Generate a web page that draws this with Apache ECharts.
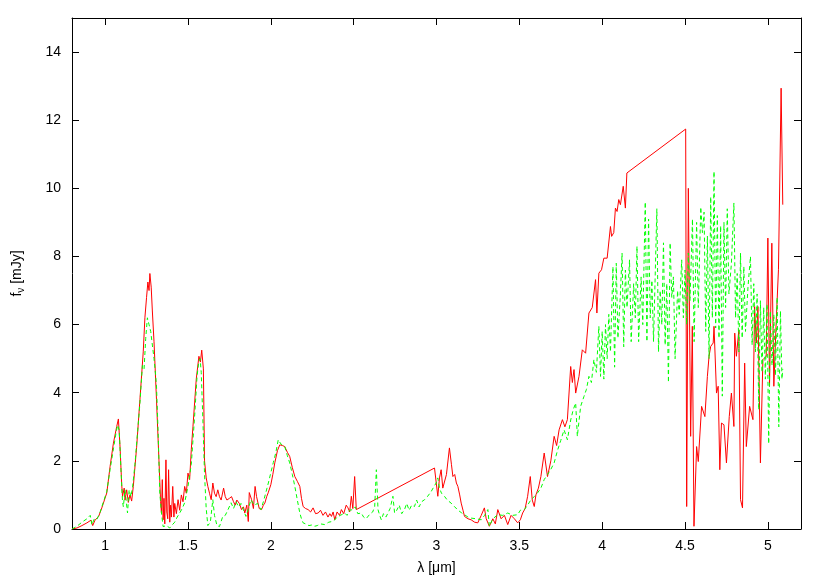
<!DOCTYPE html>
<html>
<head>
<meta charset="utf-8">
<script src="https://cdn.jsdelivr.net/npm/echarts@6/dist/echarts.min.js"></script>
<style>
  html, body { margin: 0; padding: 0; background: #fff; }
  #chart { width: 830px; height: 581px; }
</style>
</head>
<body>
<div id="chart"></div>
<script>
// tick labels
const xTicks = [1, 1.5, 2, 2.5, 3, 3.5, 4, 4.5, 5]
const yTicks = [0, 2, 4, 6, 8, 10, 12, 14]

// red spectrum [lambda (um), f_nu (mJy)]
const redShort = [
  [0.80, 0.00], [0.83, 0.03], [0.86, 0.10], [0.89, 0.18], [0.915, 0.26], [0.925, 0.10], [0.94, 0.27], [0.96, 0.36],
  [0.98, 0.62], [1.01, 1.06], [1.03, 1.84], [1.05, 2.52], [1.07, 3.01], [1.08, 3.23], [1.09, 2.40], [1.10, 1.30],
  [1.105, 0.96], [1.115, 1.20], [1.12, 0.85], [1.13, 1.15], [1.14, 0.78], [1.15, 1.00], [1.16, 0.82], [1.17, 1.25],
  [1.19, 2.40], [1.21, 3.80], [1.23, 5.20], [1.24, 6.20], [1.25, 6.80], [1.258, 7.25], [1.265, 7.00], [1.27, 7.50],
  [1.278, 7.10], [1.285, 6.40], [1.295, 5.50], [1.31, 3.80], [1.325, 2.00], [1.335, 0.80],
  [1.34, 0.47], [1.345, 1.45], [1.35, 0.27], [1.355, 0.90], [1.36, 0.15], [1.367, 2.03], [1.372, 0.50], [1.378, 0.30],
  [1.383, 1.74], [1.39, 0.20], [1.395, 0.70], [1.40, 0.35], [1.408, 1.25], [1.415, 0.35], [1.42, 0.75], [1.43, 0.45],
  [1.44, 0.86], [1.45, 0.55], [1.46, 1.00], [1.47, 0.80], [1.48, 1.25], [1.49, 1.05], [1.50, 1.64], [1.51, 1.45],
  [1.52, 2.33], [1.53, 3.00], [1.54, 3.70], [1.55, 4.40], [1.566, 5.07], [1.575, 4.90], [1.583, 5.25], [1.593, 4.70],
  [1.60, 2.00], [1.61, 1.50], [1.62, 1.25], [1.63, 1.05], [1.64, 0.86], [1.65, 1.35], [1.66, 1.05], [1.67, 0.95],
  [1.68, 1.15], [1.69, 0.95], [1.70, 0.85], [1.715, 1.20], [1.725, 0.95], [1.735, 0.85], [1.75, 0.90], [1.763, 0.95],
  [1.775, 0.80], [1.785, 0.70], [1.795, 0.85], [1.81, 0.75], [1.823, 0.57], [1.835, 0.65], [1.843, 0.47], [1.855, 0.70],
  [1.864, 0.22], [1.87, 1.07], [1.884, 0.86], [1.895, 0.60], [1.905, 1.25], [1.914, 0.95], [1.93, 0.60], [1.944, 0.57],
  [1.955, 0.70], [1.964, 0.76], [1.975, 0.95], [1.984, 1.06], [2.00, 1.30], [2.012, 1.60], [2.024, 1.94], [2.04, 2.30],
  [2.054, 2.47], [2.07, 2.45], [2.084, 2.42], [2.10, 2.25], [2.114, 2.13], [2.13, 1.80], [2.145, 1.54], [2.16, 1.40],
  [2.175, 1.25], [2.185, 0.90], [2.195, 0.66], [2.21, 0.60], [2.225, 0.57], [2.24, 0.50], [2.255, 0.62], [2.27, 0.45],
  [2.286, 0.47], [2.30, 0.55], [2.315, 0.40], [2.33, 0.50], [2.345, 0.35], [2.356, 0.45], [2.366, 0.37], [2.376, 0.50],
  [2.386, 0.27], [2.40, 0.50], [2.415, 0.40], [2.426, 0.57], [2.44, 0.45], [2.455, 0.70], [2.466, 0.62], [2.476, 0.50],
  [2.486, 0.96], [2.495, 0.60], [2.506, 1.54], [2.516, 0.57]
]
const redLong = [
  [2.988, 1.79], [3.008, 0.96], [3.018, 1.50], [3.028, 1.74], [3.038, 1.20], [3.048, 1.25], [3.06, 1.60], [3.078, 2.38],
  [3.09, 1.90], [3.099, 1.54], [3.11, 1.60], [3.12, 1.35], [3.129, 1.25], [3.14, 1.00], [3.149, 0.76], [3.16, 0.55],
  [3.169, 0.37], [3.19, 0.30], [3.209, 0.27], [3.23, 0.20], [3.249, 0.18], [3.27, 0.40], [3.289, 0.62], [3.30, 0.30],
  [3.319, 0.08], [3.34, 0.30], [3.355, 0.15], [3.37, 0.57], [3.39, 0.30], [3.41, 0.40], [3.43, 0.13], [3.45, 0.40],
  [3.47, 0.30], [3.49, 0.18], [3.506, 0.27], [3.52, 0.47], [3.535, 0.60], [3.55, 0.96], [3.566, 1.54], [3.578, 0.85],
  [3.59, 0.66], [3.60, 1.00], [3.615, 1.20], [3.63, 1.54], [3.65, 2.23], [3.67, 1.54], [3.69, 2.00], [3.71, 2.72],
  [3.725, 2.45], [3.74, 2.91], [3.76, 3.21], [3.775, 3.00], [3.79, 3.21], [3.81, 4.77], [3.82, 4.30], [3.83, 4.68],
  [3.84, 3.99], [3.86, 4.48], [3.88, 5.26], [3.90, 5.16], [3.92, 6.34], [3.94, 6.50], [3.96, 7.32], [3.968, 6.34],
  [3.98, 7.51], [3.996, 7.61], [4.01, 7.95], [4.03, 7.95], [4.05, 8.88], [4.057, 8.59], [4.07, 8.70], [4.08, 9.42],
  [4.09, 9.32], [4.10, 9.67], [4.11, 9.52], [4.127, 10.06], [4.14, 9.42], [4.149, 10.45],
  [4.504, 11.74], [4.51, 0.66], [4.52, 10.00], [4.534, 2.72], [4.544, 5.95], [4.554, 0.08], [4.57, 2.42], [4.58, 1.98],
  [4.60, 3.60], [4.62, 3.30], [4.635, 4.48], [4.645, 5.07], [4.655, 5.36], [4.67, 5.46], [4.675, 5.95], [4.69, 3.99],
  [4.70, 4.19], [4.71, 1.74], [4.72, 3.11], [4.735, 3.06], [4.75, 1.94], [4.767, 3.30], [4.78, 3.99], [4.795, 3.01],
  [4.80, 5.75], [4.81, 5.07], [4.825, 5.85], [4.835, 0.86], [4.847, 0.62], [4.86, 4.87], [4.87, 2.42], [4.89, 3.60],
  [4.91, 3.21], [4.92, 6.53], [4.93, 5.46], [4.94, 6.53], [4.955, 1.94], [4.97, 4.97], [4.99, 5.07], [5.00, 8.54],
  [5.01, 4.19], [5.024, 8.39], [5.036, 4.19], [5.05, 6.05], [5.064, 7.61], [5.08, 12.94], [5.09, 9.52]
]

// green (dashed) spectrum
const greenShort = [
  [0.80, 0.00], [0.83, 0.08], [0.86, 0.20], [0.89, 0.30], [0.91, 0.40], [0.92, 0.12], [0.935, 0.30], [0.95, 0.28],
  [0.97, 0.50], [0.99, 0.80], [1.01, 1.10], [1.03, 1.75], [1.05, 2.35], [1.065, 2.80], [1.075, 3.05], [1.085, 2.90],
  [1.095, 1.80], [1.105, 0.80], [1.11, 0.65], [1.12, 1.15], [1.135, 0.47], [1.145, 1.15], [1.155, 0.95], [1.165, 1.20],
  [1.18, 1.90], [1.195, 2.80], [1.21, 3.70], [1.225, 4.80], [1.235, 4.70], [1.245, 5.60], [1.255, 6.20], [1.265, 6.00],
  [1.275, 5.80], [1.285, 5.40], [1.295, 5.00], [1.305, 4.50], [1.31, 4.20], [1.32, 2.80], [1.33, 1.05], [1.34, 0.47],
  [1.35, 0.07], [1.37, 0.10], [1.39, 0.03], [1.405, 0.12], [1.42, 0.20], [1.435, 0.35], [1.45, 0.47], [1.465, 0.60],
  [1.48, 0.77], [1.50, 1.25], [1.52, 1.90], [1.54, 3.30], [1.555, 4.50], [1.565, 4.90], [1.573, 5.00], [1.58, 4.60],
  [1.59, 3.20], [1.60, 1.60], [1.61, 0.60], [1.62, 0.10], [1.635, 0.20], [1.65, 0.86], [1.66, 0.40], [1.675, 0.10],
  [1.69, 0.07], [1.70, 0.10], [1.71, 0.37], [1.725, 0.40], [1.74, 0.55], [1.76, 0.77], [1.775, 0.60], [1.79, 0.80],
  [1.805, 0.65], [1.82, 0.75], [1.835, 0.55], [1.85, 0.37], [1.865, 0.60], [1.88, 0.86], [1.90, 0.70], [1.92, 0.75],
  [1.94, 0.57], [1.955, 0.80], [1.97, 1.07], [1.985, 1.35], [2.00, 1.65], [2.015, 1.95], [2.03, 2.24], [2.045, 2.62],
  [2.06, 2.50], [2.07, 2.55], [2.084, 2.42], [2.10, 2.15], [2.114, 1.94], [2.13, 1.60], [2.145, 1.25], [2.16, 0.85],
  [2.175, 0.47], [2.185, 0.30], [2.195, 0.18], [2.21, 0.15], [2.23, 0.10], [2.25, 0.12], [2.265, 0.08], [2.28, 0.10],
  [2.30, 0.15], [2.325, 0.13], [2.35, 0.20], [2.37, 0.22], [2.386, 0.27], [2.40, 0.35], [2.42, 0.40], [2.446, 0.47],
  [2.46, 0.40], [2.475, 0.55], [2.496, 0.57], [2.51, 0.65], [2.525, 0.45], [2.546, 0.47], [2.56, 0.35], [2.575, 0.30],
  [2.587, 0.27], [2.60, 0.45], [2.615, 0.50], [2.627, 0.66], [2.637, 1.74], [2.647, 0.57], [2.657, 0.40], [2.667, 0.27],
  [2.68, 0.45], [2.695, 0.35], [2.707, 0.47], [2.72, 0.60], [2.737, 0.96], [2.747, 0.47], [2.76, 0.55], [2.775, 0.70],
  [2.79, 0.45], [2.807, 0.57], [2.82, 0.75], [2.835, 0.55], [2.85, 0.70], [2.867, 0.66], [2.88, 0.85], [2.895, 0.65],
  [2.91, 0.80], [2.928, 0.86], [2.945, 0.95], [2.968, 1.10], [2.985, 1.25], [2.998, 1.35], [3.008, 1.50], [3.018, 1.20],
  [3.03, 1.05], [3.048, 0.96], [3.065, 0.85], [3.088, 0.76], [3.11, 0.65], [3.13, 0.55], [3.15, 0.48], [3.169, 0.42],
  [3.19, 0.35], [3.209, 0.32], [3.24, 0.30], [3.27, 0.27], [3.29, 0.40], [3.31, 0.57], [3.319, 0.08], [3.34, 0.30],
  [3.37, 0.42], [3.40, 0.40], [3.43, 0.47], [3.46, 0.40], [3.49, 0.42], [3.506, 0.55], [3.53, 0.57], [3.55, 0.70],
  [3.57, 0.86]
]
const greenLong = [
  [3.59, 0.95], [3.61, 1.06], [3.63, 1.20], [3.65, 1.45], [3.67, 1.60], [3.69, 1.75], [3.71, 1.94], [3.73, 2.30],
  [3.75, 2.60], [3.77, 2.91], [3.79, 2.62], [3.81, 3.20], [3.825, 3.50], [3.84, 3.70], [3.85, 2.72], [3.87, 3.60],
  [3.89, 3.89], [3.905, 4.10], [3.92, 4.48], [3.935, 4.30], [3.95, 4.97], [3.965, 4.60], [3.98, 5.95], [3.99, 4.48],
  [4.00, 5.80], [4.01, 4.40], [4.02, 6.00], [4.03, 5.00], [4.04, 6.30], [4.05, 5.20], [4.065, 7.70], [4.075, 4.75],
  [4.085, 7.80], [4.095, 5.60], [4.11, 6.90], [4.12, 8.10], [4.13, 5.35], [4.14, 7.60], [4.15, 6.50], [4.165, 7.90],
  [4.175, 5.50], [4.19, 7.20], [4.20, 6.20], [4.21, 8.30], [4.22, 5.50], [4.235, 7.40], [4.245, 6.00], [4.26, 9.60],
  [4.27, 5.50], [4.28, 9.10], [4.29, 6.20], [4.30, 7.30], [4.31, 5.50], [4.33, 9.40], [4.34, 5.20], [4.35, 7.00],
  [4.36, 6.00], [4.37, 8.40], [4.38, 5.40], [4.39, 7.20], [4.40, 4.30], [4.41, 8.40], [4.42, 6.80], [4.43, 7.40],
  [4.44, 5.00], [4.455, 7.00], [4.465, 6.30], [4.48, 7.90], [4.49, 6.20], [4.50, 7.60], [4.51, 6.00], [4.52, 8.10],
  [4.53, 6.70], [4.545, 9.10], [4.555, 5.50], [4.57, 9.00], [4.58, 6.50], [4.595, 9.45], [4.605, 8.70], [4.615, 9.30],
  [4.625, 5.80], [4.635, 8.60], [4.645, 5.00], [4.655, 9.75], [4.665, 6.20], [4.675, 10.50], [4.685, 5.90], [4.695, 9.20],
  [4.705, 5.60], [4.715, 8.90], [4.725, 3.90], [4.735, 9.00], [4.745, 6.50], [4.755, 9.40], [4.765, 6.90], [4.78, 7.80],
  [4.795, 9.57], [4.805, 6.20], [4.815, 7.50], [4.825, 5.20], [4.835, 8.10], [4.845, 5.60], [4.855, 7.70], [4.865, 5.80],
  [4.88, 7.10], [4.895, 8.00], [4.905, 5.40], [4.915, 7.20], [4.925, 5.20], [4.935, 6.90], [4.945, 3.50], [4.955, 6.70],
  [4.965, 4.60], [4.975, 6.50], [4.985, 4.40], [4.995, 6.60], [5.005, 2.50], [5.015, 6.40], [5.025, 4.80], [5.036, 6.30],
  [5.046, 4.50], [5.056, 6.80], [5.066, 3.00], [5.076, 6.40], [5.085, 4.40], [5.09, 4.70]
]

const redSpectrum = redShort.concat(redLong)
const greenSpectrum = greenShort.concat(greenLong)

const font = 'Liberation Sans, Arial, sans-serif'
const axisText = { color: '#000', fontFamily: font, fontSize: 14 }
const frameLine = { show: true, onZero: false, lineStyle: { color: '#000', width: 1 } }

function xAxisDef(position, labels) {
  return {
    type: 'value',
    position: position,
    min: 0.8,
    max: 5.2,
    axisLine: frameLine,
    axisTick: { show: true, inside: true, length: 7, customValues: xTicks, lineStyle: { color: '#000' } },
    axisLabel: { show: labels, customValues: xTicks, margin: 10, ...axisText },
    splitLine: { show: false },
  }
}

function yAxisDef(position, labels) {
  return {
    type: 'value',
    position: position,
    min: 0,
    max: 15,
    axisLine: frameLine,
    axisTick: { show: true, inside: true, length: 7, customValues: yTicks, lineStyle: { color: '#000' } },
    axisLabel: { show: labels, customValues: yTicks, margin: 11, ...axisText },
    splitLine: { show: false },
  }
}

const chartDom = document.getElementById('chart')
const myChart = echarts.init(chartDom, null, { renderer: 'canvas' })

const xBottom = xAxisDef('bottom', true)
xBottom.name = 'λ [μm]'
xBottom.nameLocation = 'middle'
xBottom.nameGap = 32
xBottom.nameTextStyle = { ...axisText }

const yLeft = yAxisDef('left', true)
yLeft.name = '{t|f}{s|ν}{t| [mJy]}'
yLeft.nameLocation = 'middle'
yLeft.nameGap = 46
yLeft.nameTextStyle = {
  rich: {
    t: { ...axisText, lineHeight: 18, verticalAlign: 'middle' },
    s: { ...axisText, fontSize: 10, lineHeight: 10, padding: [8, 0, 0, 0] },
  },
}

const option = {
  animation: false,
  backgroundColor: '#fff',
  grid: { left: 70, right: 29, top: 18, bottom: 52, containLabel: false },
  xAxis: [xBottom, xAxisDef('top', false)],
  yAxis: [yLeft, yAxisDef('right', false)],
  series: [
    {
      name: 'red',
      type: 'line',
      xAxisIndex: 0,
      yAxisIndex: 0,
      data: redSpectrum,
      showSymbol: false,
      symbol: 'none',
      lineStyle: { color: '#ff0000', width: 1 },
      z: 2,
    },
    {
      name: 'green',
      type: 'line',
      xAxisIndex: 0,
      yAxisIndex: 0,
      data: greenSpectrum,
      showSymbol: false,
      symbol: 'none',
      lineStyle: { color: '#00ff00', width: 1, type: [4, 3] },
      z: 3,
    },
  ],
}

option && myChart.setOption(option)
</script>
</body>
</html>
